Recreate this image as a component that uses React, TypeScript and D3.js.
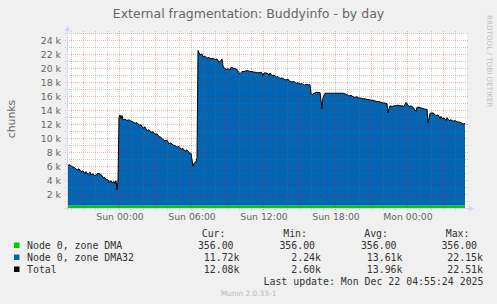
import React from 'react';
import * as d3 from 'd3';

// ---------- data ----------
const startTime = new Date(2025, 11, 20, 19, 40); // Sat 19:40
const spanMinutes = 2000; // 33h20m, munin "day" view

const minutes = [
  0, 5, 15, 25, 35, 45, 50, 60, 70, 80, 90, 95, 105, 115, 120, 130, 140, 150, 160, 170,
  180, 190, 195, 205, 210, 220, 225, 235, 240, 245, 250, 255, 260, 265, 270, 275, 280, 290, 300, 310,
  320, 330, 340, 350, 360, 370, 380, 390, 400, 410, 420, 430, 440, 450, 460, 470, 480, 490, 500, 510,
  520, 530, 540, 550, 560, 570, 580, 590, 600, 610, 620, 630, 635, 645, 650, 655, 660, 665, 675, 680,
  690, 700, 710, 720, 730, 740, 750, 760, 770, 775, 780, 785, 795, 805, 815, 820, 830, 840, 850, 860,
  865, 875, 885, 895, 905, 915, 925, 935, 945, 955, 965, 975, 980, 985, 995, 1005, 1010, 1015, 1025, 1035,
  1045, 1055, 1065, 1075, 1085, 1095, 1105, 1115, 1125, 1135, 1145, 1155, 1165, 1175, 1185, 1195, 1205, 1215, 1220, 1225,
  1235, 1245, 1255, 1265, 1275, 1280, 1290, 1340, 1380, 1390, 1400, 1410, 1420, 1430, 1440, 1450, 1460, 1470, 1480, 1490,
  1500, 1510, 1520, 1530, 1540, 1550, 1560, 1570, 1580, 1590, 1600, 1605, 1610, 1615, 1625, 1635, 1645, 1655, 1665, 1675,
  1685, 1695, 1700, 1710, 1720, 1730, 1740, 1745, 1750, 1760, 1770, 1780, 1790, 1800, 1805, 1810, 1815, 1825, 1835, 1845,
  1855, 1865, 1870, 1880, 1885, 1895, 1900, 1910, 1920, 1930, 1940, 1950, 1960, 1970, 1980, 1990,
];

// Node 0, zone DMA32 (thousands of chunks)
const dma32K = [
  5.94, 5.74, 5.84, 5.54, 5.44, 5.24, 5.04, 5.24, 4.84, 4.94, 4.54, 4.84, 4.44, 4.74, 4.34, 4.54, 4.24, 4.54, 4.54, 4.44,
  4.04, 3.94, 3.74, 3.64, 3.34, 3.54, 3.24, 3.44, 3.14, 3.54, 2.24, 3.54, 12.64, 12.94, 12.44, 12.84, 12.24, 12.34, 12.14, 12.24,
  12.04, 11.94, 11.74, 11.84, 11.44, 11.54, 11.04, 11.24, 10.64, 10.84, 10.44, 10.54, 10.14, 10.24, 9.84, 9.74, 9.44, 9.24, 9.34, 8.84,
  8.94, 8.64, 8.54, 8.34, 8.44, 8.04, 8.14, 7.74, 7.94, 7.54, 7.44, 5.64, 6.04, 6.24, 6.84, 22.15, 21.84, 21.54, 21.64, 21.24,
  21.34, 21.04, 21.14, 20.94, 21.04, 20.84, 20.94, 20.44, 20.74, 20.94, 19.94, 19.64, 19.44, 19.54, 19.34, 19.74, 19.64, 19.54, 19.44, 18.94,
  18.84, 19.14, 19.14, 19.24, 19.24, 19.14, 19.14, 19.04, 19.04, 18.94, 19.04, 18.94, 18.54, 18.94, 18.94, 18.84, 18.54, 18.94, 18.54, 18.64,
  18.34, 18.44, 18.14, 18.24, 18.04, 17.94, 18.04, 17.74, 17.64, 17.74, 17.44, 17.54, 17.34, 17.44, 17.14, 17.34, 17.24, 17.24, 16.04, 15.84,
  16.04, 16.14, 16.14, 16.14, 13.84, 15.44, 16.04, 16.04, 16.04, 15.94, 15.84, 15.64, 15.74, 15.54, 15.44, 15.54, 15.34, 15.34, 15.24, 15.24,
  15.14, 15.14, 15.04, 15.04, 14.94, 14.84, 14.84, 14.74, 14.64, 14.64, 14.54, 13.24, 13.84, 14.24, 14.14, 14.24, 14.24, 14.34, 14.24, 14.24,
  14.14, 14.74, 14.54, 14.14, 14.24, 14.04, 13.64, 13.44, 14.04, 14.04, 13.94, 13.84, 13.74, 13.74, 11.84, 12.44, 13.14, 13.24, 13.14, 12.84,
  12.94, 12.44, 12.74, 12.34, 12.54, 12.14, 12.54, 12.14, 12.24, 12.04, 12.14, 11.94, 11.94, 11.84, 11.64, 11.72,
];

// Node 0, zone DMA (constant)
const dmaChunks = 356;

const yMax = 25000;

const legendNames = ['Node 0, zone DMA', 'Node 0, zone DMA32', 'Total'];
const legendColors = ['#00CC00', '#0066B3', '#000000'];
const curVals = ['356.00 ', '11.72k', '12.08k'];
const minVals = ['356.00 ', '2.24k', '2.60k'];
const avgVals = ['356.00 ', '13.61k', '13.96k'];
const maxVals = ['356.00 ', '22.15k', '22.51k'];
const statHeaders = ['Cur:', 'Min:', 'Avg:', 'Max:'];

const titleText = 'External fragmentation: Buddyinfo - by day';
const yLabelText = 'chunks';
const lastUpdate = 'Last update: Mon Dec 22 04:55:24 2025';
const versionText = 'Munin 2.0.33-1';
const watermark = 'RRDTOOL / TOBI OETIKER';

// ---------- component ----------
export default function App() {
  const W = 497;
  const H = 304;
  const left = 67, right = 467, top = 33, bottom = 208;

  const endTime = new Date(+startTime + spanMinutes * 60000);
  const x = d3.scaleTime().domain([startTime, endTime]).range([left, right]);
  const y = d3.scaleLinear().domain([0, yMax]).range([bottom, top]);

  const data = minutes.map((m, i) => ({
    t: new Date(+startTime + m * 60000),
    dma: dmaChunks,
    dma32: dma32K[i] * 1000,
  }));

  const areaDma = d3
    .area<any>()
    .x((d) => x(d.t))
    .y0(y(0))
    .y1((d) => y(d.dma));
  const areaDma32 = d3
    .area<any>()
    .x((d) => x(d.t))
    .y0((d) => y(d.dma))
    .y1((d) => y(d.dma + d.dma32));
  const lineTotal = d3
    .line<any>()
    .x((d) => x(d.t))
    .y((d) => y(d.dma + d.dma32));

  const hours = d3.timeHour.every(1)!.range(startTime, endTime);
  const yTicks = d3.range(1000, yMax + 1, 1000);
  const fmtTime = d3.timeFormat('%a %H:%M');

  const sans = "'DejaVu Sans', sans-serif";
  const mono = "'DejaVu Sans Mono', monospace";
  const fontColor = '#666666';
  const axisColor = '#CFD6F8';
  const majorGrid = 'rgba(255,0,0,0.32)';
  const minorGrid = 'rgba(110,110,110,0.35)';

  const statEnds = [239.5, 321, 402.5, 483];
  const headerEnds = [225.5, 307, 388, 469.5];
  const rowBase = [248.5, 260.5, 272.5];
  const statCols = [curVals, minVals, avgVals, maxVals];

  return (
    <svg
      width={W}
      height={H}
      style={{ position: 'absolute', left: 0, top: 0, display: 'block' }}
      xmlns="http://www.w3.org/2000/svg"
    >
      <rect x={0} y={0} width={W} height={H} fill="#F0F0F0" />
      <rect x={left} y={top} width={right - left} height={bottom - top} fill="#FFFFFF" />

      {/* title */}
      <text x={248.5} y={18} textAnchor="middle" fontFamily={sans} fontSize={12.5} fill={fontColor}>
        {titleText}
      </text>

      {/* watermark */}
      <text
        x={487}
        y={15}
        transform="rotate(90 487 15)"
        fontFamily={sans}
        fontSize={7.2}
        fill="#C0C0C0"
      >
        {watermark}
      </text>

      {/* y label */}
      <text
        x={15}
        y={119}
        transform="rotate(-90 15 119)"
        textAnchor="middle"
        fontFamily={sans}
        fontSize={10.8}
        fill={fontColor}
      >
        {yLabelText}
      </text>

      {/* areas */}
      <path d={areaDma(data) || ''} fill="#00CC00" />
      <path d={areaDma32(data) || ''} fill="#0066B3" />

      {/* grid */}
      <g shapeRendering="crispEdges">
        {yTicks.map((v) => {
          const major = v % 2000 === 0;
          return (
            <line
              key={'h' + v}
              x1={left - 2}
              x2={right + 2}
              y1={Math.round(y(v)) + 0.5}
              y2={Math.round(y(v)) + 0.5}
              stroke={major ? majorGrid : minorGrid}
              strokeDasharray="1,1"
            />
          );
        })}
        {hours.map((h) => {
          const major = h.getHours() % 3 === 0;
          const xx = Math.round(x(h)) + 0.5;
          return (
            <line
              key={'v' + +h}
              x1={xx}
              x2={xx}
              y1={top - 2}
              y2={bottom + 2}
              stroke={major ? majorGrid : minorGrid}
              strokeDasharray="1,1"
            />
          );
        })}
      </g>

      {/* total line */}
      <path d={lineTotal(data) || ''} fill="none" stroke="#000000" strokeWidth={1} />

      {/* axes */}
      <g shapeRendering="crispEdges">
        <line x1={left - 3} x2={right + 3} y1={bottom + 0.5} y2={bottom + 0.5} stroke={axisColor} />
        <line x1={left + 0.5} x2={left + 0.5} y1={bottom + 3} y2={top - 3} stroke={axisColor} />
      </g>
      <polygon
        points={`${right + 2},${bottom - 2.5} ${right + 7},${bottom + 0.5} ${right + 2},${bottom + 3.5}`}
        fill={axisColor}
      />
      <polygon
        points={`${left - 2.5},${top - 2} ${left + 0.5},${top - 7} ${left + 3.5},${top - 2}`}
        fill={axisColor}
      />

      {/* y tick labels */}
      {yTicks
        .filter((v) => v % 2000 === 0 && v < yMax)
        .map((v) => (
          <text
            key={'yl' + v}
            x={61}
            y={y(v) + 3.5}
            textAnchor="end"
            fontFamily={sans}
            fontSize={9.3}
            fill={fontColor}
          >
            {`${v / 1000} k`}
          </text>
        ))}

      {/* x tick labels */}
      {hours
        .filter((h) => h.getHours() % 6 === 0)
        .map((h) => (
          <text
            key={'xl' + +h}
            x={x(h) + 1}
            y={219.5}
            textAnchor="middle"
            fontFamily={sans}
            fontSize={9.3}
            fill={fontColor}
          >
            {fmtTime(h)}
          </text>
        ))}

      {/* legend */}
      <g fontFamily={mono} fontSize={9.9} fill="#333333" style={{ whiteSpace: 'pre' }}>
        {statHeaders.map((s, i) => (
          <text key={'hd' + i} x={headerEnds[i]} y={237.3} textAnchor="end" xmlSpace="preserve">
            {s}
          </text>
        ))}
        {legendNames.map((n, i) => (
          <g key={'lg' + i}>
            <rect x={14} y={rowBase[i] - 6} width={5.5} height={5.5} fill={legendColors[i]} />
            <text x={27} y={rowBase[i]} xmlSpace="preserve">
              {n}
            </text>
            {statCols.map((col, j) => (
              <text key={j} x={statEnds[j]} y={rowBase[i]} textAnchor="end" xmlSpace="preserve">
                {col[i]}
              </text>
            ))}
          </g>
        ))}
        <text x={483.5} y={284.5} textAnchor="end" xmlSpace="preserve">
          {lastUpdate}
        </text>
      </g>
      <text x={248.5} y={295.5} textAnchor="middle" fontFamily={sans} fontSize={7.4} fill="#BBBBBB">
        {versionText}
      </text>
    </svg>
  );
}
